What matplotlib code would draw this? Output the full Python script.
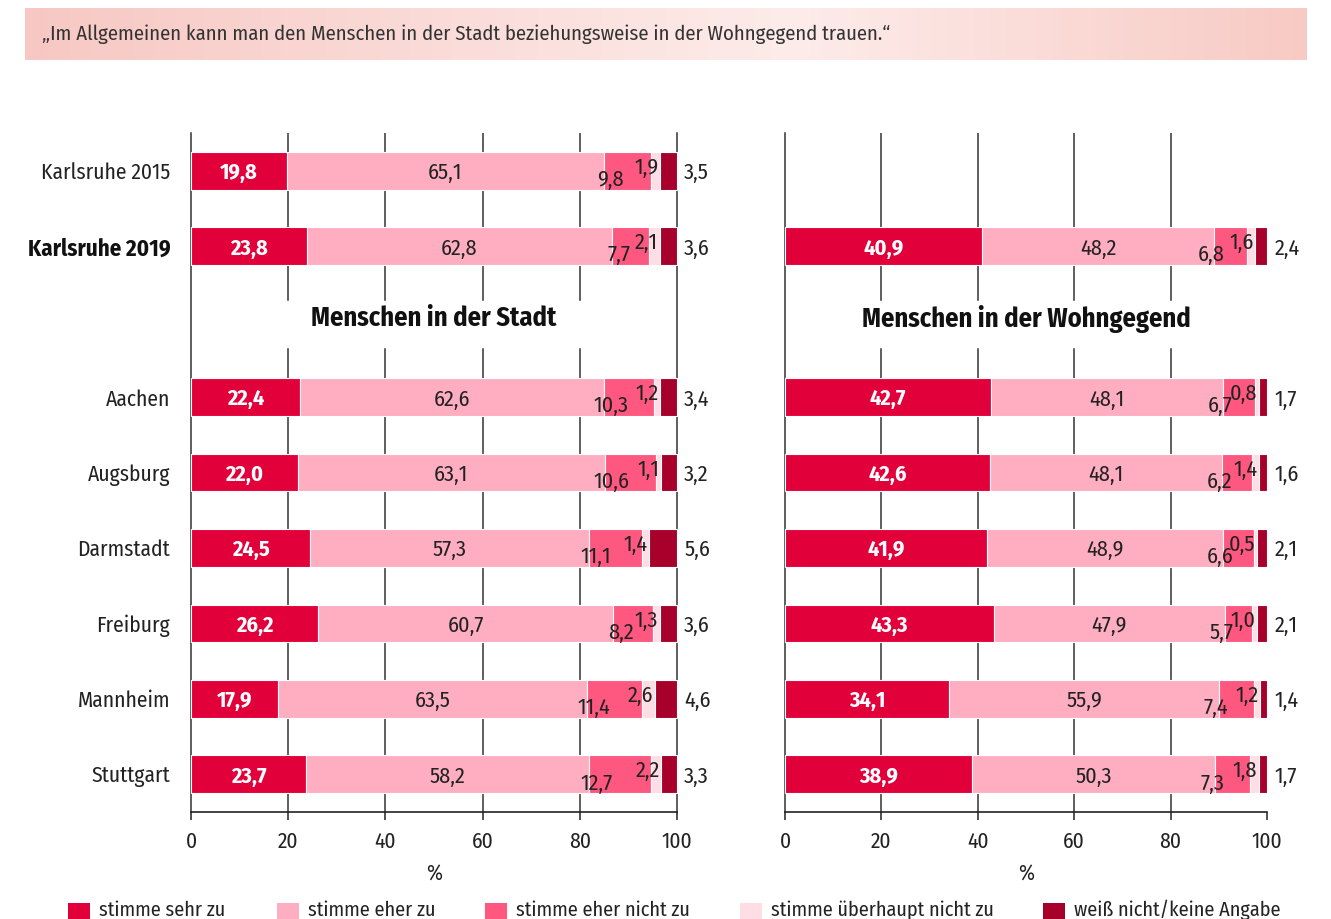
import numpy as np
import matplotlib
matplotlib.use("Agg")
import matplotlib.pyplot as plt
from matplotlib.patches import Rectangle
from matplotlib import font_manager

def weights_of(name):
    ws = set()
    for f in font_manager.fontManager.ttflist:
        if f.name == name and f.style == 'normal':
            w = f.weight
            if isinstance(w, str):
                w = {'normal': 400, 'regular': 400, 'bold': 700}.get(w, 400)
            ws.add(int(w))
    return ws

cands = ['Fira Sans Condensed', 'Roboto Condensed', 'Open Sans Condensed',
         'Encode Sans Condensed', 'Asap Condensed', 'Archivo Narrow', 'Roboto']
main_font = 'Roboto'
for c in cands:
    ws = weights_of(c)
    if 400 in ws and any(w >= 600 for w in ws):
        main_font = c
        break
plt.rcParams['font.family'] = [main_font, 'DejaVu Sans']

# ---------------- data ----------------
title = "\u201eIm Allgemeinen kann man den Menschen in der Stadt beziehungsweise in der Wohngegend trauen.\u201c"
categories = ["Karlsruhe 2015", "Karlsruhe 2019", "Aachen", "Augsburg", "Darmstadt",
              "Freiburg", "Mannheim", "Stuttgart"]
row_pos = [0, 1, 3, 4, 5, 6, 7, 8]
series_names = ["stimme sehr zu", "stimme eher zu", "stimme eher nicht zu",
                "stimme überhaupt nicht zu", "weiß nicht/keine Angabe"]
colors = ["#E2003A", "#FFAEC2", "#FF5880", "#FFDDE4", "#A6002B"]

stadt_sehr = [19.8, 23.8, 22.4, 22.0, 24.5, 26.2, 17.9, 23.7]
stadt_eher = [65.1, 62.8, 62.6, 63.1, 57.3, 60.7, 63.5, 58.2]
stadt_nicht = [9.8, 7.7, 10.3, 10.6, 11.1, 8.2, 11.4, 12.7]
stadt_ueber = [1.9, 2.1, 1.2, 1.1, 1.4, 1.3, 2.6, 2.2]
stadt_weiss = [3.5, 3.6, 3.4, 3.2, 5.6, 3.6, 4.6, 3.3]

wohn_sehr = [None, 40.9, 42.7, 42.6, 41.9, 43.3, 34.1, 38.9]
wohn_eher = [None, 48.2, 48.1, 48.1, 48.9, 47.9, 55.9, 50.3]
wohn_nicht = [None, 6.8, 6.7, 6.2, 6.6, 5.7, 7.4, 7.3]
wohn_ueber = [None, 1.6, 0.8, 1.4, 0.5, 1.0, 1.2, 1.8]
wohn_weiss = [None, 2.4, 1.7, 1.6, 2.1, 2.1, 1.4, 1.7]

xticks = [0, 20, 40, 60, 80, 100]
panel_titles = ["Menschen in der Stadt", "Menschen in der Wohngegend"]

# ---------------- figure ----------------
W, H = 1331, 919
fig = plt.figure(figsize=(W / 100, H / 100), dpi=100)

def fx(px):
    return px / W

def fy(py):
    return 1 - py / H

# title box with gradient
tax = fig.add_axes([fx(25), fy(60), fx(1307) - fx(25), fy(8) - fy(60)])
c_l = np.array([247, 200, 195]) / 255
c_m = np.array([253, 236, 234]) / 255
c_r = np.array([248, 202, 196]) / 255
t = np.linspace(0, 1, 400)
grad = np.zeros((1, 400, 3))
for i, tt in enumerate(t):
    if tt < 0.6:
        a = tt / 0.6
        grad[0, i] = c_l * (1 - a) + c_m * a
    else:
        a = (tt - 0.6) / 0.4
        grad[0, i] = c_m * (1 - a) + c_r * a
tax.imshow(grad, aspect='auto', extent=[0, 1, 0, 1])
tax.set_axis_off()
fig.text(fx(42), fy(34), title, fontsize=14.9, color="#333333", va='center', ha='left')

BAR_H = 0.5
label_fs = 16

def fmt(v):
    return f"{v:.1f}".replace('.', ',')

def draw_panel(ax, data, nicht_off, has_100_line, ptitle, with_ylabels):
    ax.set_xlim(0, 100)
    ax.set_ylim(8.5, -0.5)
    for s in ax.spines.values():
        s.set_visible(False)
    ax.spines['bottom'].set_visible(True)
    ax.spines['bottom'].set_linewidth(1.2)
    ax.spines['bottom'].set_color('#222222')
    lc = '#333333'
    for xv in xticks:
        if xv == 0 or (xv == 100 and has_100_line):
            ax.plot([xv, xv], [-0.5, 8.5], color=lc, lw=1.1, zorder=1, clip_on=False)
        elif xv != 100:
            ax.plot([xv, xv], [-0.5, 1.71], color=lc, lw=1.1, zorder=1)
            ax.plot([xv, xv], [2.36, 8.5], color=lc, lw=1.1, zorder=1)
    for r, pos in enumerate(row_pos):
        vals = [d[r] for d in data]
        if vals[0] is None:
            continue
        left = 0
        for k, v in enumerate(vals):
            ax.barh(pos, v, left=left, height=BAR_H, color=colors[k],
                    edgecolor='white', linewidth=0.8, zorder=2, clip_on=False)
            left += v
        cum = np.cumsum([0] + vals)
        ax.text(vals[0] / 2, pos, fmt(vals[0]), ha='center', va='center_baseline',
                color='white', fontweight='bold', fontsize=label_fs, zorder=4)
        ax.text(cum[1] + vals[1] / 2, pos, fmt(vals[1]), ha='center', va='center_baseline',
                color='#222222', fontsize=label_fs, zorder=4)
        ax.text(cum[2] + nicht_off, pos + 0.09, fmt(vals[2]), ha='center', va='center_baseline',
                color='#222222', fontsize=label_fs, zorder=4)
        ax.text(cum[4] - 0.3, pos - 0.07, fmt(vals[3]), ha='right', va='center_baseline',
                color='#222222', fontsize=label_fs, zorder=4)
        ax.text(101.5, pos, fmt(vals[4]), ha='left', va='center_baseline',
                color='#222222', fontsize=label_fs, zorder=4, clip_on=False)
    ax.text(50, 1.96, ptitle, ha='center', va='center', fontsize=19,
            fontweight='bold', color='#111111')
    ax.set_xticks(xticks)
    ax.set_xticklabels([str(x) for x in xticks], fontsize=15.5, color='#222222')
    ax.tick_params(axis='x', length=6, width=1.1, color='#222222', pad=8)
    ax.set_xlabel('%', fontsize=15.5, color='#222222', labelpad=7)
    if with_ylabels:
        ax.set_yticks(row_pos)
        ax.set_yticklabels(categories, fontsize=15.5, color='#222222')
        for lab in ax.get_yticklabels():
            if lab.get_text() == "Karlsruhe 2019":
                lab.set_fontweight('bold')
                lab.set_fontsize(16.5)
                lab.set_color('#111111')
        ax.tick_params(axis='y', length=0, pad=15)
    else:
        ax.set_yticks([])

ax1 = fig.add_axes([fx(191), fy(812), fx(677) - fx(191), fy(133) - fy(812)])
ax2 = fig.add_axes([fx(785), fy(812), fx(1267) - fx(785), fy(133) - fy(812)])

draw_panel(ax1, [stadt_sehr, stadt_eher, stadt_nicht, stadt_ueber, stadt_weiss],
           1.5, True, panel_titles[0], True)
draw_panel(ax2, [wohn_sehr, wohn_eher, wohn_nicht, wohn_ueber, wohn_weiss],
           -0.6, False, panel_titles[1], False)

# legend
leg_sq_x = [68, 277, 485, 740, 1043]
for name, col, px in zip(series_names, colors, leg_sq_x):
    fig.patches.append(Rectangle((fx(px), fy(921)), fx(22), fy(903) - fy(921),
                                 transform=fig.transFigure, facecolor=col,
                                 edgecolor='none'))
    fig.text(fx(px + 31), fy(910), name, fontsize=14.6, color='#222222',
             ha='left', va='center')

fig.savefig("out.png", dpi=100)
